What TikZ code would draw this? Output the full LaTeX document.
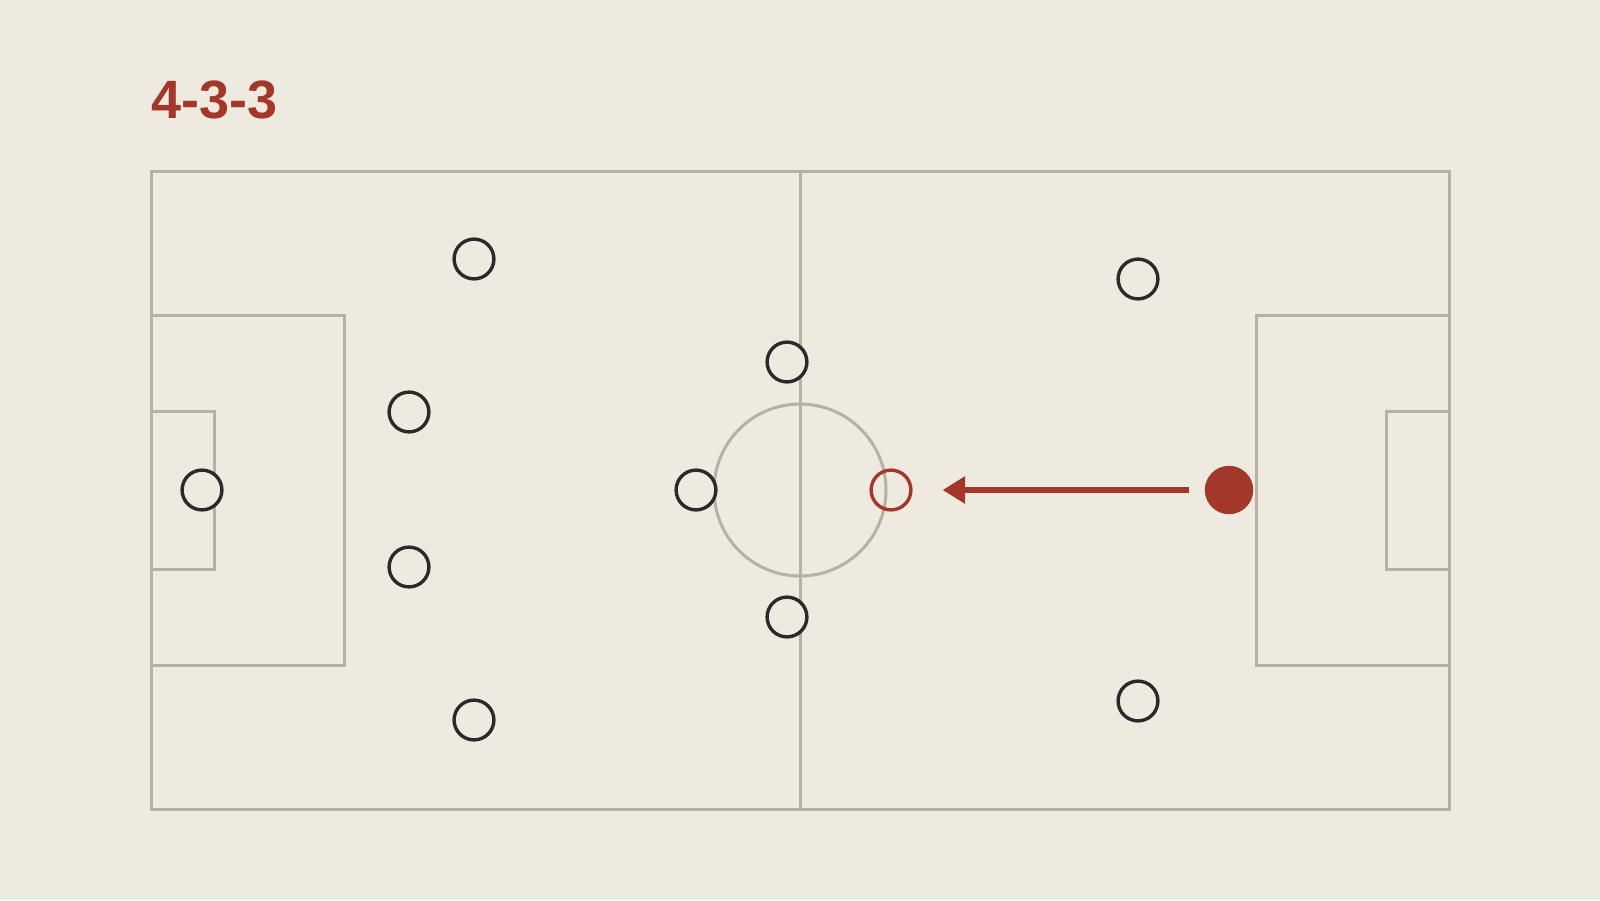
\documentclass[tikz,border=0pt]{standalone}
\usepackage{fontspec}
\setmainfont{Liberation Sans}
\usetikzlibrary{arrows.meta, positioning}
\definecolor{pitchbg}{HTML}{EEEAE0}
\definecolor{pitchline}{HTML}{B5B1A3}
\definecolor{playerline}{HTML}{2A2A2A}
\definecolor{pressred}{HTML}{A3372A}
\tikzset{
x=0.5pt, y=-0.5pt, % one unit is one pixel of the 1600x900 picture
pitch/.style={draw=pitchline, line width=1.5pt}, % sets the markings of the pitch
player/.style={circle, draw=playerline, line width=1.7pt, fill=pitchbg, minimum size=19.9pt, inner sep=0pt}, % a player of the 4-3-3
target/.style={player, draw=pressred, fill=none}, % the player that is pressed
runner/.style={circle, fill=pressred, minimum size=24.2pt, inner sep=0pt}, % the pressing player
run/.style={draw=pressred, line width=2.8pt, -{Triangle[length=11.2pt, width=13pt]}}, % the run
}
\begin{document}
\begin{tikzpicture}
\fill[pitchbg] (0,0) rectangle (1600,900);
\useasboundingbox (0,0) rectangle (1600,900);

\node[anchor=base west, text=pressred, inner sep=0pt] (title) at (151,118) {\bfseries\fontsize{27}{30}\selectfont 4-3-3};

% pitch
\draw[pitch] (151,171.5) rectangle (1449,809);
\draw[pitch] (800,171.5) -- (800,809);
\draw[pitch] (800,490) circle (86);
\draw[pitch] (151,315) rectangle (344,665);
\draw[pitch] (151,411) rectangle (214,569);
\draw[pitch] (1256,315) rectangle (1449,665);
\draw[pitch] (1386,411) rectangle (1449,569);

% players
\node[player] (gk) at (202,490) {};
\node[player] (fbt) at (474,259) {};
\node[player] (cbt) at (409,412) {};
\node[player] (cbb) at (409,567) {};
\node[player] (fbb) at (474,720) {};
\node[player] (cmt) at (787,362) {};
\node[player] (dm) at (696,490) {};
\node[player] (cmb) at (787,617) {};
\node[player] (wt) at (1138,279) {};
\node[player] (wb) at (1138,701) {};
\node[target] (cf) at (891,490) {};
\node[runner] (press) at (1229,490) {};

\draw[run, shorten <=7.5pt, shorten >=15pt] (press) -- (cf);
\end{tikzpicture}
\end{document}
